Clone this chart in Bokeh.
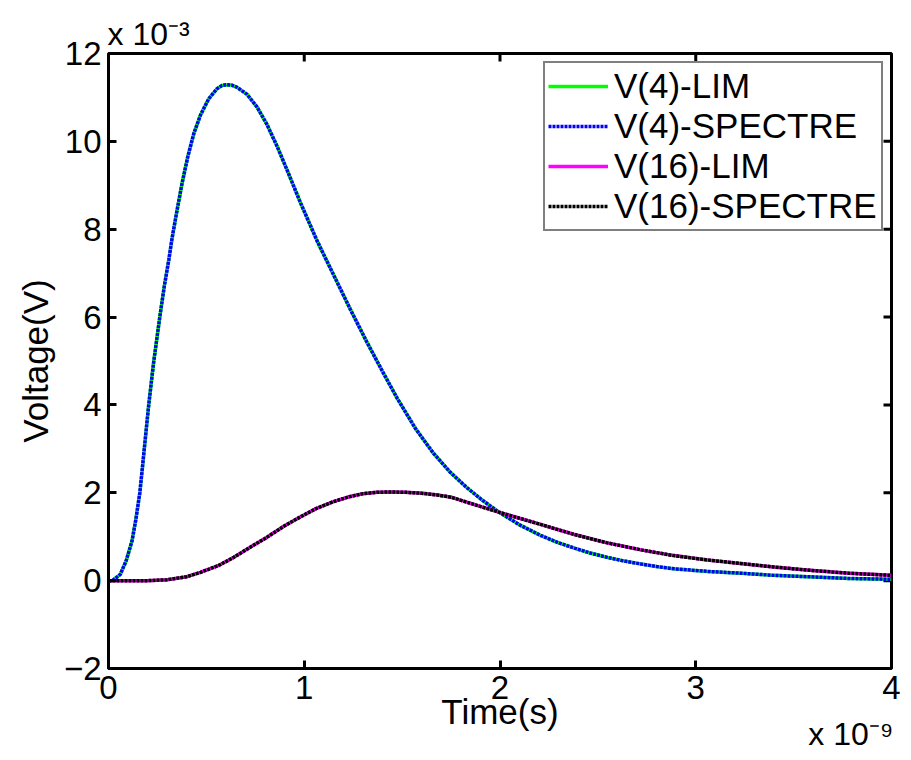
import math
from bokeh.plotting import figure
from bokeh.models import Range1d, FixedTicker, Legend, LegendItem, Title
from bokeh.embed import file_html
from bokeh.resources import INLINE

# ---- data (time in units of 1e-9 s, voltage in units of 1e-3 V) ----
t_v4 = [0.000, 0.020, 0.060, 0.090, 0.120, 0.140, 0.160, 0.175, 0.190, 0.205, 0.230, 0.262,
        0.285, 0.308, 0.325, 0.351, 0.376, 0.405, 0.436, 0.470, 0.512, 0.555, 0.580, 0.603,
        0.630, 0.657, 0.708, 0.759, 0.810, 0.862, 0.913, 0.981, 1.065, 1.151, 1.235, 1.320,
        1.400, 1.475, 1.570, 1.660, 1.745, 1.830, 1.910, 1.994, 2.100, 2.207, 2.300, 2.380,
        2.460, 2.548, 2.630, 2.720, 2.800, 2.888, 3.060, 3.229, 3.400, 3.570, 3.780, 4.000]
v4_lim = [0.00, 0.00, 0.14, 0.45, 0.90, 1.40, 2.00, 2.65, 3.32, 3.98, 4.95, 6.00,
          6.70, 7.30, 7.80, 8.45, 9.05, 9.65, 10.18, 10.60, 10.97, 11.20, 11.27, 11.29,
          11.28, 11.23, 11.07, 10.78, 10.38, 9.88, 9.34, 8.60, 7.74, 6.95, 6.18, 5.43,
          4.76, 4.15, 3.45, 2.90, 2.47, 2.12, 1.83, 1.56, 1.27, 1.03, 0.86, 0.74,
          0.63, 0.53, 0.45, 0.38, 0.32, 0.27, 0.21, 0.17, 0.12, 0.09, 0.05, 0.03]
v4_spectre = [0.00, 0.00, 0.14, 0.45, 0.90, 1.40, 2.00, 2.65, 3.32, 3.98, 4.95, 6.00,
              6.70, 7.30, 7.80, 8.45, 9.05, 9.65, 10.18, 10.60, 10.97, 11.20, 11.27, 11.29,
              11.28, 11.23, 11.07, 10.78, 10.38, 9.88, 9.34, 8.60, 7.74, 6.95, 6.18, 5.43,
              4.76, 4.15, 3.45, 2.90, 2.47, 2.12, 1.83, 1.56, 1.27, 1.03, 0.86, 0.74,
              0.63, 0.53, 0.45, 0.38, 0.32, 0.27, 0.21, 0.17, 0.12, 0.09, 0.05, 0.03]

t_v16 = [0.000, 0.200, 0.300, 0.400, 0.470, 0.560, 0.640, 0.720, 0.810, 0.900, 0.980, 1.060,
         1.150, 1.230, 1.300, 1.370, 1.440, 1.520, 1.600, 1.680, 1.750, 1.870, 1.994, 2.100,
         2.207, 2.380, 2.548, 2.720, 2.888, 3.060, 3.229, 3.400, 3.570, 3.780, 4.000]
v16_lim = [0.00, 0.00, 0.02, 0.09, 0.19, 0.34, 0.53, 0.75, 0.99, 1.25, 1.45, 1.64,
           1.80, 1.91, 1.98, 2.01, 2.02, 2.01, 1.99, 1.95, 1.90, 1.73, 1.56, 1.42,
           1.28, 1.05, 0.86, 0.70, 0.57, 0.47, 0.39, 0.31, 0.24, 0.17, 0.12]
v16_spectre = [0.00, 0.00, 0.02, 0.09, 0.19, 0.34, 0.53, 0.75, 0.99, 1.25, 1.45, 1.64,
               1.80, 1.91, 1.98, 2.01, 2.02, 2.01, 1.99, 1.95, 1.90, 1.73, 1.56, 1.42,
               1.28, 1.05, 0.86, 0.70, 0.57, 0.47, 0.39, 0.31, 0.24, 0.17, 0.12]

series_names = ["V(4)-LIM", "V(4)-SPECTRE", "V(16)-LIM", "V(16)-SPECTRE"]
x_ticks = [0, 1, 2, 3, 4]
y_ticks = [-2, 0, 2, 4, 6, 8, 10, 12]
x_label = "Time(s)"
y_label = "Voltage(V)"
y_multiplier = "x 10\u207b\u00b3"
x_multiplier = "x 10\u207b\u2079"

FONT = "Liberation Sans"
X0, X1, Y0, Y1 = 0, 4, -2, 12

p = figure(frame_width=783, frame_height=615,
           x_range=Range1d(X0, X1), y_range=Range1d(Y0, Y1),
           output_backend="svg", toolbar_location=None,
           min_border_left=108, min_border_top=53, min_border_right=20, min_border_bottom=92,
           background_fill_color="white", border_fill_color="white")

p.xgrid.visible = False
p.ygrid.visible = False
p.outline_line_color = "black"
p.outline_line_width = 3

def style_axis(ax, ticks):
    ax.ticker = FixedTicker(ticks=ticks)
    ax.axis_line_width = 3
    ax.axis_line_color = "black"
    ax.major_tick_in = 8
    ax.major_tick_out = 0
    ax.major_tick_line_width = 3
    ax.major_tick_line_color = "black"
    ax.minor_tick_line_color = None
    ax.major_label_text_font = FONT
    ax.major_label_text_color = "black"
    ax.major_label_text_font_size = "33px"
    ax.major_label_standoff = 7
    ax.axis_label_text_font = FONT
    ax.axis_label_text_font_size = "35px"
    ax.axis_label_text_font_style = "normal"
    ax.axis_label_text_color = "black"

style_axis(p.xaxis[0], x_ticks)
style_axis(p.yaxis[0], y_ticks)
p.xaxis[0].axis_label = x_label
p.yaxis[0].axis_label = y_label
p.xaxis[0].axis_label_standoff = -10
p.yaxis[0].axis_label_standoff = 6

# inward ticks on the top and right edges of the box
p.scatter(x_ticks, [Y1] * len(x_ticks), marker="dash", size=16, angle=math.pi / 2,
          line_color="black", line_width=3)
p.scatter([X1] * len(y_ticks), y_ticks, marker="dash", size=16,
          line_color="black", line_width=3)

r1 = p.line(t_v4, v4_lim, line_color="#00FF00", line_width=3.5)
r2 = p.line(t_v4, v4_spectre, line_color="#0000FF", line_width=3.5, line_dash="3 1")
r3 = p.line(t_v16, v16_lim, line_color="#FF00FF", line_width=3.5)
r4 = p.line(t_v16, v16_spectre, line_color="black", line_width=3.5, line_dash="3 1")

legend = Legend(items=[LegendItem(label=n, renderers=[r]) for n, r in zip(series_names, [r1, r2, r3, r4])],
                location="top_right", margin=8, padding=3, spacing=0,
                glyph_width=60, glyph_height=38, label_height=38, label_width=264, label_standoff=6,
                label_text_font=FONT, label_text_font_size="35px", label_text_color="black",
                border_line_color="black", border_line_width=2,
                background_fill_color="white", background_fill_alpha=1)
p.add_layout(legend)

# axis multipliers
p.add_layout(Title(text=y_multiplier, align="left", vertical_align="bottom", standoff=4, offset=-1,
                   text_font=FONT, text_font_size="32px", text_font_style="normal",
                   text_color="black"), "above")
p.add_layout(Title(text=x_multiplier, align="right", vertical_align="top", standoff=-36, offset=-2,
                   text_font=FONT, text_font_size="32px", text_font_style="normal",
                   text_color="black"), "below")

open("out.html", "w").write(file_html(p, INLINE))
